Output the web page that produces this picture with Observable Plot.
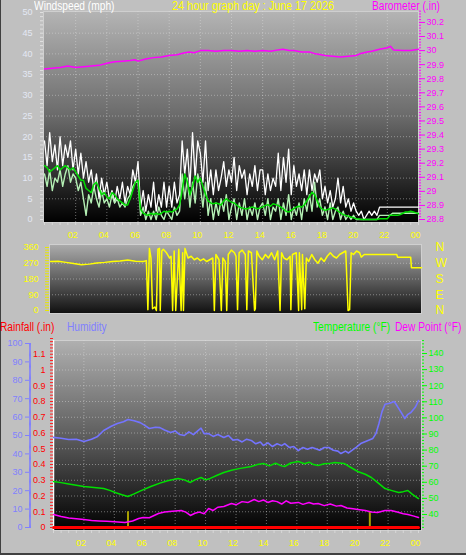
<!DOCTYPE html>
<html><head><meta charset="utf-8">
<script src="https://cdn.jsdelivr.net/npm/d3@7"></script>
<script src="https://cdn.jsdelivr.net/npm/@observablehq/plot@0.6"></script>
<style>
html,body{margin:0;padding:0;background:#c0c0c0;}
#wrap{position:relative;width:466px;height:555px;overflow:hidden;background:#c0c0c0;font-family:"Liberation Sans",Arial,sans-serif;box-shadow:inset 1px 0 0 #404040, inset 0 -2px 0 #404040;}
#wrap svg{position:absolute;left:0;top:0;}
.t{position:absolute;z-index:2;white-space:nowrap;font-size:12px;line-height:13px;transform:scaleX(0.85);transform-origin:0 0;}
</style></head><body>
<div id="wrap">
<div class="t" style="left:34px;top:0px;color:#ffffff">Windspeed (mph)</div>
<div class="t" style="left:172px;top:0px;color:#ffff00;transform:scaleX(0.9)">24 hour graph day : June 17 2026</div>
<div class="t" style="left:372px;top:0px;color:#ff00ff">Barometer (.in)</div>
<div class="t" style="left:0px;top:321px;color:#ff0000">Rainfall (.in)</div>
<div class="t" style="left:67px;top:321px;color:#8080ff">Humidity</div>
<div class="t" style="left:313px;top:321px;color:#00ff00">Temperature (°F)</div>
<div class="t" style="left:395px;top:321px;color:#ff00ff">Dew Point (°F)</div>
</div>
<script>
// ---------------- DATA ----------------
const hourTicks = [2,4,6,8,10,12,14,16,18,20,22,24];
const hourTickLabels = ["02","04","06","08","10","12","14","16","18","20","22","00"];

const windTicks = [0,5,10,15,20,25,30,35,40,45,50];
const baroTicks = [28.8,28.9,29.0,29.1,29.2,29.3,29.4,29.5,29.6,29.7,29.8,29.9,30.0,30.1,30.2];

// wind samples every 10 minutes, 00:00 .. 24:00 (mph)
const windGust = [19,13,21,14,18,12, 20,13,18,15,19,12, 17,11,16,10,14,9, 12,7,11,5,10,6, 9,5,7,4,8,5, 9,4,8,6,12,9, 14,3,7,2,6,3, 9,2,6,3,9,3, 8,3,9,4,6,19, 11,17,8,21,10,19, 16,9,19,7,12,6, 12,7,10,14,8,12, 9,15,7,13,10,12, 6,11,8,13,7,12, 12,6,11,7,10,8, 16,7,15,9,17,6, 13,8,11,7,12,6, 12,7,11,9,12,5, 8,4,7,3,5,10, 4,8,3,5,2,4, 2,1,2,0,1,2, 1,2,1,3,3,3, 3,3,3,3,3,3, 3,3,3,3,3,3, 3];
const windSpeed = [11,8,12,7,10,9, 12,8,11,13,9,11, 10,7,9,5,1,6, 4,8,5,3,7,4, 5,3,6,4,5,3, 4,3,5,6,8,9, 9,1,3,0,2,0, 2,0,3,1,0,2, 1,0,3,1,2,11, 5,10,3,9,4,11, 8,3,9,1,5,0, 4,1,5,2,6,0, 3,5,0,4,1,5, 0,3,1,4,0,3, 4,1,5,0,3,2, 5,0,4,1,6,0, 3,1,4,0,5,2, 6,2,9,3,5,1, 3,0,4,0,2,3, 0,2,0,1,0,1, 0,0,0,0,0,0, 0,0,0,1,1,1, 1,1,1.5,1.5,1.5,1.5, 1.5,1.5,1.5,1.5,1.5,1.5, 1.5];
const windAvg = [13,12.5,11.5,12,12.5,13, 12,12.5,13,12.5,12,12.5, 11.5,10.5,9.5,9.5,7.5,7, 6.5,8.5,9,7.5,6,6.5, 5.5,5,6.5,6,5,4.5, 4,3.5,3.5,5,7,9, 9.5,2.5,1.5,1.2,1,1.5, 1.2,1.5,1.2,1.5,2,1.8, 2,1.8,2.2,2.5,3.5,7, 11,9,6,8,10.5,9, 10,8,6,4.5,4,3.8, 4,3.8,3.5,4.5,5,4.5, 4.2,4,3.5,3,2.8,2.6, 2.6,2.8,3,2.8,2.6,2.8, 3,3.4,3.6,3.2,3.8,3.6, 3.4,3,2.5,2,1.8,2.2, 2.6,3,3.2,3,3.5,4.5, 5.5,6.6,6,4.5,3,2.5, 2.2,2.4,2.6,2.8,2.5,2, 1.6,1.2,1,0.8,0.6,0.4, 0.2,0.1,0,0,0,0, 0,0,0,0.2,0.2,0.2, 0.2,1,1,1,1,1.2, 1.5,1.8,1.8,2,1.8,1.6, 1.4];

// barometer [hour, inHg]
const barometer = [[0,29.87],[0.5,29.875],[1,29.88],[1.5,29.89],[2,29.88],[2.5,29.885],[3,29.89],[3.5,29.895],[4,29.91],[4.5,29.92],[5,29.925],[5.5,29.93],[5.8,29.935],[6,29.925],[6.5,29.94],[7,29.95],[7.5,29.955],[8,29.965],[8.5,29.97],[9,29.985],[9.3,29.99],[9.6,29.985],[10,30.0],[10.5,30.0],[11,29.995],[11.5,30.0],[12,30.0],[12.5,29.995],[13,30.0],[13.5,29.995],[14,30.0],[14.5,29.995],[15,30.005],[15.3,30.01],[15.7,30.0],[16,30.0],[16.5,29.99],[17,29.99],[17.3,29.98],[17.5,29.975],[18,29.965],[18.5,29.96],[19,29.955],[19.5,29.96],[20,29.965],[20.3,29.98],[20.7,29.99],[21,29.995],[21.5,30.01],[22,30.02],[22.2,30.03],[22.4,30.005],[23,30.0],[23.5,30.0],[24,30.01]];

// wind direction [hour, degrees]
const dirTicks = [0,90,180,270,360];
const dirLabels = ["N","E","S","W","N"];
const windDirection = [[0,280],[0.5,282],[1,275],[1.5,268],[2,262],[2.5,265],[3,272],[3.5,275],[4,280],[4.5,283],[5,288],[5.5,282],[6,280],[6.2,285],[6.3,5],[6.4,355],[6.5,300],[6.6,10],[6.75,20],[6.85,0],[6.95,350],[7.05,355],[7.1,0],[7.2,340],[7.3,350],[7.5,330],[7.7,300],[7.8,310],[7.9,0],[8.0,340],[8.1,0],[8.3,350],[8.45,0],[8.55,330],[8.6,0],[8.7,355],[8.9,300],[9.1,310],[9.3,290],[9.5,300],[9.7,285],[9.9,295],[10.1,280],[10.3,290],[10.5,300],[10.6,0],[10.7,320],[10.9,290],[11.05,0],[11.15,300],[11.3,280],[11.4,0],[11.5,320],[11.7,345],[11.9,330],[12.0,310],[12.1,5],[12.2,330],[12.4,345],[12.6,320],[12.7,5],[12.8,340],[13.0,330],[13.2,0],[13.25,10],[13.35,340],[13.5,310],[13.7,290],[13.9,320],[14.1,300],[14.3,330],[14.5,290],[14.7,340],[14.85,0],[14.95,330],[15.1,300],[15.3,290],[15.5,310],[15.55,5],[15.65,320],[15.9,330],[16.05,0],[16.1,330],[16.25,5],[16.3,320],[16.45,10],[16.55,300],[16.7,280],[16.9,320],[17.1,290],[17.3,270],[17.5,300],[17.7,280],[17.9,310],[18.1,330],[18.3,310],[18.5,300],[18.7,320],[18.9,330],[19.1,340],[19.25,0],[19.35,5],[19.45,330],[19.6,320],[19.8,340],[20.0,330],[20.1,305],[20.3,320],[22.4,320],[22.45,305],[23.3,305],[23.35,244],[24,244]];

// humidity [hour, %]
const humidity = [[0,49],[0.5,48.5],[1,47.8],[1.5,48],[2,46.7],[2.5,48],[2.9,49.5],[3.3,52.7],[3.8,55],[4.2,56.5],[4.6,57.5],[4.9,58.7],[5.3,58],[5.7,57],[6,55.5],[6.3,53.8],[6.7,54.5],[7,54.3],[7.3,53],[7.7,51.6],[8,52.5],[8.3,50.5],[8.6,50],[8.9,52],[9.2,50.5],[9.5,52.7],[9.7,54],[9.9,51],[10.2,51],[10.5,49.5],[10.8,50.5],[11.2,48.9],[11.5,50],[11.8,47.5],[12.1,47.8],[12.4,46.5],[12.7,48],[13,47.3],[13.3,45.5],[13.6,46.5],[13.8,44.6],[14.1,46],[14.4,44],[14.7,45.5],[15,44.5],[15.2,45.6],[15.5,43.5],[15.8,44],[16.1,41.8],[16.4,43.5],[16.7,42.5],[17,43.5],[17.2,42.9],[17.5,42],[17.8,43.5],[18.1,43.5],[18.4,42],[18.7,41.5],[18.9,40.2],[19.2,41.5],[19.4,40.5],[19.6,41.8],[19.9,43.5],[20.2,45.6],[20.6,47],[21,48.4],[21.2,51],[21.4,56.5],[21.6,63],[21.8,67],[22.1,67.5],[22.4,68.5],[22.6,66],[22.9,62],[23.1,59.2],[23.3,61.5],[23.5,62.5],[23.8,65.5],[24,69]];

// temperature [hour, °F]
const temperature = [[0,60.5],[0.5,59.8],[1,59],[1.5,58.2],[2,57.4],[2.5,57],[3,56.5],[3.3,56.1],[3.7,55],[4.1,53.5],[4.5,52.3],[4.9,51.2],[5.3,52.8],[5.8,55],[6.4,57.4],[7,59.5],[7.5,61],[8.2,62.4],[8.6,61.5],[9,59.9],[9.3,61.5],[9.7,63],[10,61.5],[10.3,62.4],[10.8,64.5],[11.2,66.1],[11.7,67.5],[12.2,68.5],[13,69.8],[13.4,71],[13.8,71.7],[14.2,70.2],[14.6,71.8],[15,70.2],[15.2,69.8],[15.6,72],[16.1,72.9],[16.5,71.5],[16.8,72.5],[17.1,71],[17.4,70.4],[17.8,71.5],[18.1,71.6],[18.5,72.3],[19.1,71.7],[19.5,69.5],[20,66.7],[20.5,65],[20.9,63],[21.3,60],[21.8,56.1],[22.2,55],[22.7,53.7],[23,54.2],[23.3,54.9],[23.6,52.5],[24,49.9]];

// dew point [hour, °F]
const dewPoint = [[0,40],[0.5,38.8],[1,37.8],[1.5,37.3],[2,36.9],[2.5,36.3],[3,36],[3.5,35.8],[4,35.5],[4.7,35],[5.2,36],[5.6,37.5],[5.9,38.1],[6.3,38],[6.9,40.6],[7.3,41.5],[7.8,42],[8.4,42.5],[8.7,41.5],[9,39.4],[9.3,40.8],[9.6,41.5],[9.9,40.5],[10.2,43.7],[10.5,42.5],[10.8,44.5],[11.2,45],[11.7,46.8],[12,46],[12.4,48],[12.8,47.5],[13.2,49.3],[13.5,48],[13.8,49],[14.1,47.5],[14.4,48.5],[14.7,48],[15,46.5],[15.3,48.5],[15.6,47],[16.1,47.5],[16.4,46.3],[16.8,47.5],[17.1,46.5],[17.4,46.8],[17.8,45.5],[18.2,46.5],[18.6,45.2],[18.9,45.6],[19.3,44],[19.7,43.5],[20,43.1],[20.5,42.5],[20.9,41.5],[21.3,41.2],[21.8,42.5],[22.2,42.5],[22.6,41.5],[23,40.5],[23.3,40],[23.7,39],[24,38.1]];

// rainfall (inches) and rain gauge events
const rainfall = [[0,0],[24,0]];
const rainEvents = [[4.9,0.1],[20.8,0.1]];

const rainTicks = [0,0.1,0.2,0.3,0.4,0.5,0.6,0.7,0.8,0.9,1.0,1.1];
const humTicks = [0,10,20,30,40,50,60,70,80,90,100];
const tempTicks = [40,50,60,70,80,90,100,110,120,130,140];

// ---------------- SCALE CONVERSIONS (shared axes) ----------------
const W = 466, H = 555;
const baroToWind = b => (b - 28.8) * 34;
const windToBaro = w => Math.round((w / 34 + 28.8) * 10) / 10;
const humToRain = h => h * 1.84 / 157.5;
const rainToHum = r => Math.round(r * 157.5 / 1.84);
const tempToRain = t => (13 + (t - 40) * 1.61) / 157.5;
const rainToTemp = r => Math.round((r * 157.5 - 13) / 1.61 + 40);
const hourLabel = d => hourTickLabels[hourTicks.indexOf(d)];

const wrap = document.getElementById("wrap");
function addGradient(svg, id, stops) {
  const defs = d3.select(svg).insert("defs", ":first-child");
  const g = defs.append("linearGradient").attr("id", id)
    .attr("x1", 0).attr("y1", 0).attr("x2", 0).attr("y2", 1);
  stops.forEach(([o, c]) => g.append("stop").attr("offset", o).attr("stop-color", c));
}
const baseStyle = {background: "transparent", fontFamily: "'Liberation Sans', Arial, sans-serif", fontSize: "9px"};
const gridStyle = {stroke: "#e0e0e0", strokeOpacity: 0.45, strokeDasharray: "1,2"};

// ---------------- PANEL 1: wind speed + barometer ----------------
const p1 = Plot.plot({
  width: W, height: H,
  marginLeft: 43, marginRight: W - 418, marginTop: 11, marginBottom: H - 222,
  style: baseStyle,
  x: {domain: [0, 24], range: [44, 418], axis: null},
  y: {domain: [0, 50], range: [219, 12], axis: null},
  marks: [
    Plot.frame({fill: "url(#g1)", stroke: "#cfcfcf"}),
    Plot.ruleY(windTicks.slice(1, -1), gridStyle),
    Plot.ruleX(hourTicks.slice(0, -1), gridStyle),
    Plot.line(windGust, {x: (d, i) => i / 6, y: d => d, stroke: "#ffffff", strokeWidth: 1.3}),
    Plot.line(windSpeed, {x: (d, i) => i / 6, y: d => d, stroke: "#b4f0b4", strokeWidth: 1.4}),
    Plot.line(windAvg, {x: (d, i) => i / 6, y: d => d, stroke: "#00dd00", strokeWidth: 1.5}),
    Plot.line(barometer, {x: d => d[0], y: d => baroToWind(d[1]), stroke: "#ff00ff", strokeWidth: 1.5}),
    Plot.axisY({anchor: "left", ticks: windTicks, tickSize: 0, tickPadding: 11, color: "#e4e8f4", label: null}),
    Plot.axisY({anchor: "left", ticks: d3.range(0, 51, 1), tickSize: 3, tickFormat: () => "", color: "#e0e0e0", label: null}),
    Plot.axisY({anchor: "right", ticks: baroTicks.map(baroToWind), tickSize: 6, tickPadding: 2, tickFormat: w => String(windToBaro(w)), color: "#ff00ff", label: null}),
    Plot.axisY({anchor: "right", ticks: d3.range(28.8, 30.29, 0.02).map(baroToWind), tickSize: 2, tickFormat: () => "", color: "#ff00ff", label: null}),
    Plot.axisX({anchor: "bottom", ticks: hourTicks, tickSize: 0, tickPadding: 9, dx: -3, tickFormat: hourLabel, color: "#ffff00", label: null}),
    Plot.axisX({anchor: "bottom", ticks: d3.range(0, 24.01, 0.5), tickSize: 3, tickFormat: () => "", color: "#d8d8d8", label: null})
  ]
});
addGradient(p1, "g1", [[0, "#b4b4b4"], [0.5, "#6a6a6a"], [1, "#000000"]]);
wrap.appendChild(p1);

// ---------------- PANEL 2: wind direction ----------------
const p2 = Plot.plot({
  width: W, height: H,
  marginLeft: 49, marginRight: W - 421, marginTop: 244, marginBottom: H - 313,
  style: baseStyle,
  x: {domain: [0, 24], range: [50, 421], axis: null},
  y: {domain: [0, 360], range: [310, 247], axis: null},
  marks: [
    Plot.frame({fill: "url(#g2)", stroke: "#d0d0d0"}),
    Plot.ruleY(dirTicks.slice(1, -1), gridStyle),
    Plot.line(windDirection, {x: d => d[0], y: d => d[1], stroke: "#ffff00", strokeWidth: 1.5}),
    Plot.axisY({anchor: "left", ticks: dirTicks, tickSize: 0, tickPadding: 11, color: "#ffff00", label: null}),
    Plot.axisY({anchor: "left", ticks: d3.range(0, 361, 15), tickSize: 4, tickFormat: () => "", color: "#e8e800", label: null}),
    Plot.axisY({anchor: "right", ticks: dirTicks, tickSize: 0, tickPadding: 14, tickFormat: (d) => dirLabels[dirTicks.indexOf(d)], color: "#ffff00", fontSize: 12, label: null})
  ]
});
addGradient(p2, "g2", [[0, "#ababab"], [0.5, "#606060"], [1, "#101010"]]);
wrap.appendChild(p2);

// ---------------- PANEL 3: rain, humidity, temperature, dew point ----------------
const p3 = Plot.plot({
  width: W, height: H,
  marginLeft: 53, marginRight: W - 421, marginTop: 340, marginBottom: H - 530,
  style: baseStyle,
  x: {domain: [0, 24], range: [53, 418], axis: null},
  y: {domain: [0, 1.2], range: [527, 338], axis: null},
  marks: [
    Plot.frame({fill: "url(#g3)", stroke: "#d0d0d0"}),
    Plot.ruleY(rainTicks.slice(1), gridStyle),
    Plot.ruleX(hourTicks.slice(0, -1), gridStyle),
    Plot.ruleX([0], {stroke: "#ffffff", strokeWidth: 1.5}),
    Plot.ruleX(rainEvents, {x: d => d[0], y1: 0, y2: d => d[1], stroke: "#a8a000", strokeWidth: 2}),
    Plot.line(humidity, {x: d => d[0], y: d => humToRain(d[1]), stroke: "#7474ff", strokeWidth: 1.6}),
    Plot.line(temperature, {x: d => d[0], y: d => tempToRain(d[1]), stroke: "#00e000", strokeWidth: 1.5}),
    Plot.line(dewPoint, {x: d => d[0], y: d => tempToRain(d[1]), stroke: "#ff00ff", strokeWidth: 1.5}),
    Plot.line(rainfall, {x: d => d[0], y: d => d[1], stroke: "#ff0000", strokeWidth: 3}),
    // humidity axis (outer left)
    Plot.axisY({anchor: "left", ticks: humTicks.map(humToRain), dx: -24, tickSize: 4, tickPadding: 3, tickFormat: r => String(rainToHum(r)), color: "#8080ff", label: null}),
    Plot.axisY({anchor: "left", ticks: d3.range(0, 100.1, 0.5).map(humToRain), dx: -22, tickSize: 2, tickFormat: () => "", color: "#8080ff", label: null}),
    // rainfall axis (inner left)
    Plot.axisY({anchor: "left", ticks: rainTicks, tickSize: 0, tickPadding: 8, tickFormat: r => String(Math.round(r * 10) / 10), color: "#ff0000", label: null}),
    Plot.axisY({anchor: "left", ticks: d3.range(0, 1.201, 0.02), tickSize: 3, tickFormat: () => "", color: "#ff2020", label: null}),
    // temperature axis (right)
    Plot.axisY({anchor: "right", ticks: tempTicks.map(tempToRain), tickSize: 5, tickPadding: 2, tickFormat: r => String(rainToTemp(r)), color: "#00ff00", label: null}),
    Plot.axisY({anchor: "right", ticks: d3.range(32, 149, 2).map(tempToRain), tickSize: 2, tickFormat: () => "", color: "#00ff00", label: null}),
    Plot.axisX({anchor: "bottom", ticks: hourTicks, tickSize: 0, tickPadding: 9, dx: -3, tickFormat: hourLabel, color: "#ffff00", label: null}),
    Plot.axisX({anchor: "bottom", ticks: d3.range(0, 24.01, 0.5), tickSize: 3, tickFormat: () => "", color: "#d8d8d8", label: null})
  ]
});
addGradient(p3, "g3", [[0, "#b0b0b0"], [0.5, "#5e5e5e"], [1, "#000000"]]);
wrap.appendChild(p3);
</script>
</body></html>
